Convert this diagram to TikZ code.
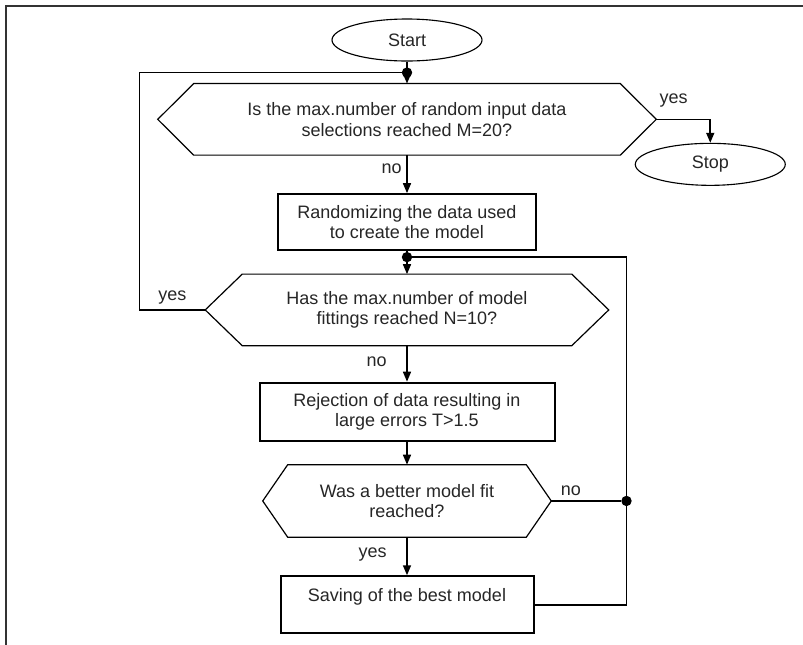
\documentclass[tikz,border=0pt]{standalone}
\usepackage{fontspec}
\setmainfont{Liberation Sans}
\usetikzlibrary{shapes.geometric, arrows.meta, positioning}
\tikzstyle{terminal} = [ellipse, line width=0.28mm, minimum width=37.5mm, minimum height=10.5mm, draw=black]
\tikzstyle{process} = [rectangle, line width=0.5mm, minimum height=14mm, align=center, draw=black]
\tikzstyle{decision} = [rectangle, minimum height=17.75mm, align=center, inner sep=0pt]
\tikzstyle{hexline} = [line width=0.3mm]
\tikzstyle{junction} = [circle, fill, inner sep=0pt, minimum size=2.6mm]
\tikzstyle{arrow} = [line width=0.4mm,->,>={Triangle[length=2.5mm,width=2mm]}]
\tikzstyle{line} = [line width=0.4mm]
\newcommand{\hexbox}[2]{\draw [hexline] (#1.west) -- ([xshift=#2]#1.north west) -- ([xshift=-#2]#1.north east) -- (#1.east) -- ([xshift=-#2]#1.south east) -- ([xshift=#2]#1.south west) -- cycle;}

\begin{document}
\begin{tikzpicture}[font=\fontsize{12.8}{14.6}\selectfont, text=black!85]
		\useasboundingbox (0,0) rectangle (200.75mm,-161.25mm);
		\draw [line width=0.45mm, black!80] (1.5mm,-161.25mm) -- (1.5mm,-1.5mm) -- (200.75mm,-1.5mm);
		\node (Start) [terminal] at (101.75mm,-10mm) {Start};
		\node (Q1) [decision, minimum width=124.5mm, below = 5.5mm of Start] {Is the max.number of random input data\\selections reached M=20?};
		\node (Stop) [terminal] at ([xshift=13.5mm, yshift=-11.25mm]Q1.east) {Stop};
		\node (R1) [process, minimum width=64.5mm, below = 9.5mm of Q1] {Randomizing the data used\\to create the model};
		\node (Q2) [decision, minimum width=100.75mm, below = 5.75mm of R1] {Has the max.number of model\\fittings reached N=10?};
		\node (R2) [process, minimum width=73.75mm, minimum height=14.5mm, below = 9mm of Q2] {Rejection of data resulting in\\large errors T>1.5};
		\node (Q3) [decision, minimum width=72mm, minimum height=18mm, below = 5.75mm of R2] {Was a better model fit\\reached?};
		\node (S) [process, minimum width=63.25mm, minimum height=14.25mm, below = 9.5mm of Q3] {Saving of the best model\\~};
		\hexbox{Q1}{9mm}
		\hexbox{Q2}{9.25mm}
		\hexbox{Q3}{6.25mm}
		\node (Dot1) [junction] at ([yshift=-2.75mm]Start.south) {};
		\node (Dot2) [junction] at ([yshift=-1.5mm]R1.south) {};
		\coordinate (YesLeft) at ([xshift=-16.4mm]Q2.west);
		\coordinate (RightLoop) at ([xshift=23mm]S.east);
		\node (Dot3) [junction] at (RightLoop |- Q3.east) {};
		\draw [arrow] (Start) -- (Q1);
		\draw [arrow] (Q1.east) -| node[above=1.75mm, pos=0.16]{yes} (Stop);
		\draw [arrow] (Q1) -- node[left=0mm, pos=0.35]{no} (R1);
		\draw [arrow] (R1) -- (Q2);
		\draw [line] (Q2.west) -- node[above]{yes} (YesLeft) |- (Dot1);
		\draw [arrow] (Q2) -- node[left=3.75mm, pos=0.45]{no} (R2);
		\draw [arrow] (R2) -- (Q3);
		\draw [arrow] (Q3) -- node[left=3.75mm, pos=0.45]{yes} (S);
		\draw [line] (Q3.east) -- node[above, pos=0.28]{no} (Dot3);
		\draw [line] (S.east) -- (RightLoop) |- (Dot2);
	\end{tikzpicture}
\end{document}
